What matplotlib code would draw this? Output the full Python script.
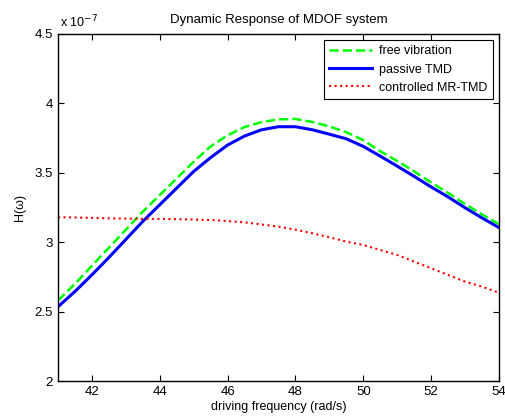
import numpy as np
import matplotlib.pyplot as plt

plt.rcParams['font.family'] = ['Liberation Sans', 'DejaVu Sans']
plt.rcParams['font.size'] = 9

# driving frequency (rad/s)
freq = [41, 41.5, 42, 42.5, 43, 43.5, 44, 44.5, 45, 45.5, 46, 46.5, 47, 47.5,
        48, 48.5, 49, 49.5, 50, 50.5, 51, 51.5, 52, 52.5, 53, 53.5, 54]

# H(w) in units of 1e-7
free_vib = [2.58, 2.70, 2.83, 2.96, 3.09, 3.22, 3.34, 3.46, 3.58, 3.69, 3.77, 3.83, 3.865, 3.885,
            3.888, 3.866, 3.834, 3.792, 3.735, 3.655, 3.585, 3.51, 3.43, 3.355, 3.275, 3.20, 3.13]
passive_tmd = [2.535, 2.645, 2.765, 2.89, 3.02, 3.15, 3.27, 3.39, 3.51, 3.61, 3.70, 3.765, 3.81, 3.832,
               3.832, 3.81, 3.778, 3.745, 3.69, 3.62, 3.548, 3.474, 3.398, 3.326, 3.248, 3.175, 3.105]
mr_tmd = [3.18, 3.178, 3.175, 3.172, 3.17, 3.168, 3.168, 3.166, 3.163, 3.16, 3.152, 3.143, 3.128, 3.112,
          3.09, 3.064, 3.035, 3.004, 2.98, 2.944, 2.908, 2.86, 2.812, 2.764, 2.716, 2.68, 2.636]

fig = plt.figure(figsize=(5.06, 4.2), dpi=100)
ax = fig.add_axes([58 / 506, 1 - 381 / 420, 441 / 506, 347 / 420])

ax.plot(freq, free_vib, color='#00ff00', linestyle='--', linewidth=1.8, label='free vibration')
ax.plot(freq, passive_tmd, color='#0000ff', linestyle='-', linewidth=2.2, label='passive TMD')
ax.plot(freq, mr_tmd, color='#ff0000', linestyle=':', linewidth=1.5, label='controlled MR-TMD')

ax.set_xlim(41, 54)
ax.set_ylim(2, 4.5)
ax.set_xticks([42, 44, 46, 48, 50, 52, 54])
ax.set_yticks([2, 2.5, 3, 3.5, 4, 4.5])
ax.set_yticklabels(['2', '2.5', '3', '3.5', '4', '4.5'])
ax.tick_params(direction='in', top=True, right=True, length=4, width=0.8, labelsize=9.5)
for s in ax.spines.values():
    s.set_linewidth(1.0)

ax.set_title('Dynamic Response of MDOF system', fontsize=9.5, pad=8)
ax.set_xlabel('driving frequency (rad/s)', fontsize=9, labelpad=2)
ax.set_ylabel('H(\u03c9)', fontsize=9, labelpad=6)
ax.text(0.005, 1.012, 'x 10$^{-7}$', transform=ax.transAxes, fontsize=9, va='bottom', ha='left')

leg = ax.legend(loc='upper right', fontsize=9, fancybox=False, edgecolor='black',
                framealpha=1, handlelength=3.4, handletextpad=0.6, borderaxespad=0.5,
                labelspacing=0.5, borderpad=0.4)
leg.get_frame().set_linewidth(0.8)

fig.savefig('out.png', dpi=100)
